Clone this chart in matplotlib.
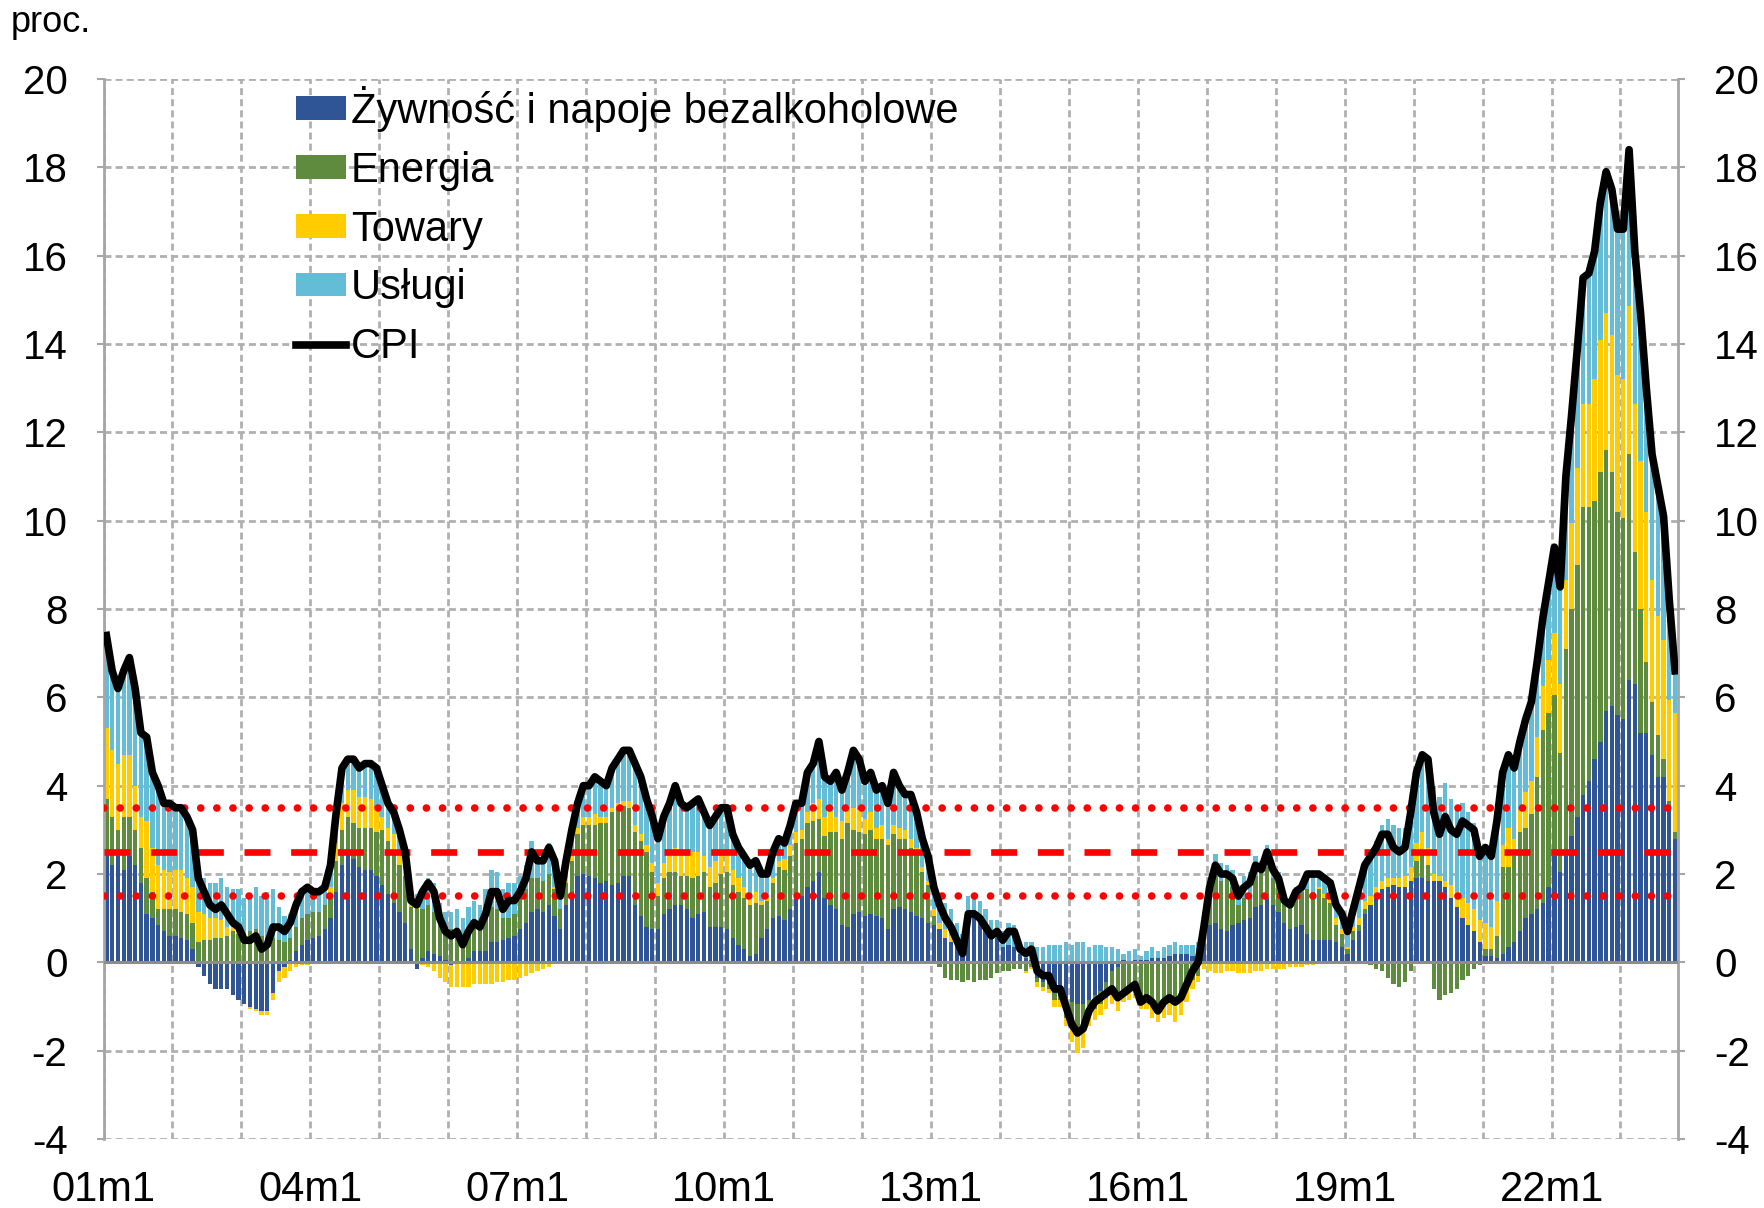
import numpy as np
import matplotlib
matplotlib.use("Agg")
import matplotlib.pyplot as plt
from matplotlib.lines import Line2D
from matplotlib.patches import Patch

plt.rcParams['font.family'] = ['Liberation Sans', 'DejaVu Sans']
plt.rcParams['axes.unicode_minus'] = False

# ---- data: monthly 2001m1 .. 2023m10, contributions in pp, CPI y/y in % ----
food = [
    2.4, 2.2, 2.4, 2.1, 2.4, 2.2, 1.8, 1.1, 1.0, 0.85, 0.7, 0.6,            # 2001
    0.6, 0.55, 0.5, 0.3, -0.1, -0.3, -0.5, -0.6, -0.6, -0.6, -0.75, -0.85,  # 2002
    -0.95, -1.0, -1.05, -1.1, -1.1, -0.7, -0.2, -0.1, 0.05, 0.25, 0.4, 0.5, # 2003
    0.55, 0.6, 0.75, 1.0, 1.6, 2.2, 2.45, 2.35, 2.15, 2.1, 2.1, 1.95,       # 2004
    1.75, 1.55, 1.35, 1.15, 0.9, 0.3, -0.15, 0.1, 0.25, 0.2, 0.15, 0.05,    # 2005
    -0.05, 0.0, 0.0, 0.1, 0.25, 0.25, 0.25, 0.45, 0.45, 0.5, 0.55, 0.6,     # 2006
    0.75, 0.9, 1.15, 1.2, 1.15, 1.3, 1.05, 0.75, 1.3, 1.6, 1.95, 2.0,       # 2007
    1.95, 1.9, 1.8, 1.85, 1.75, 1.8, 1.95, 1.95, 1.3, 1.05, 0.8, 0.75,      # 2008
    0.75, 1.1, 1.2, 1.3, 1.3, 1.2, 1.0, 1.1, 1.15, 0.8, 0.8, 0.8,           # 2009
    0.75, 0.55, 0.4, 0.3, 0.15, 0.2, 0.55, 0.75, 1.0, 1.05, 0.95, 1.2,      # 2010
    1.5, 1.5, 1.7, 1.85, 2.05, 1.45, 1.3, 1.2, 0.85, 0.8, 1.1, 1.15,        # 2011
    1.05, 1.1, 1.05, 1.0, 0.75, 1.2, 1.25, 1.2, 1.15, 1.05, 1.0, 0.9,       # 2012
    0.85, 0.75, 0.55, 0.45, 0.4, 0.3, 0.95, 1.05, 0.9, 0.75, 0.6, 0.55,     # 2013
    0.35, 0.4, 0.35, 0.2, 0.1, 0.05, -0.35, -0.45, -0.5, -0.7, -0.7, -0.8,  # 2014
    -0.9, -0.95, -0.95, -0.85, -0.75, -0.65, -0.45, -0.2, -0.1, 0.05, 0.0, 0.05,  # 2015
    0.05, 0.05, 0.1, 0.1, 0.1, 0.15, 0.2, 0.2, 0.2, 0.15, 0.2, 0.55,        # 2016
    0.85, 0.9, 0.75, 0.7, 0.85, 0.9, 0.95, 1.0, 1.25, 1.3, 1.45, 1.3,       # 2017
    1.15, 0.9, 0.75, 0.8, 0.85, 0.65, 0.5, 0.5, 0.5, 0.5, 0.45, 0.35,       # 2018
    0.2, 0.5, 0.7, 1.1, 1.3, 1.5, 1.65, 1.7, 1.75, 1.7, 1.7, 1.85,          # 2019
    1.9, 1.9, 1.85, 1.85, 1.85, 1.7, 1.45, 1.25, 1.0, 0.85, 0.7, 0.45,      # 2020
    0.15, 0.15, 0.1, 0.2, 0.35, 0.45, 0.7, 1.0, 1.1, 1.2, 1.35, 1.7,        # 2021
    2.4, 2.05, 2.4, 2.85, 3.3, 3.8, 4.1, 4.6, 5.0, 5.7, 5.8, 5.6,           # 2022
    5.5, 6.4, 6.3, 5.2, 5.2, 4.7, 4.2, 4.2, 3.5, 2.8,                       # 2023
]
energy = [
    1.3, 1.1, 0.6, 1.2, 0.9, 0.8, 0.8, 0.8, 0.6, 0.35, 0.5, 0.6,
    0.6, 0.6, 0.6, 0.6, 0.45, 0.5, 0.5, 0.55, 0.55, 0.6, 0.7, 0.65,
    0.6, 0.7, 0.75, 0.6, 0.55, 0.55, 0.5, 0.45, 0.5, 0.55, 0.6, 0.6,
    0.6, 0.55, 0.55, 0.55, 0.7, 0.8, 0.85, 0.8, 0.9, 0.95, 0.95, 1.0,
    1.25, 1.2, 1.15, 1.05, 1.05, 0.95, 1.2, 1.1, 1.05, 0.95, 0.75, 0.7,
    0.75, 0.7, 0.55, 0.65, 0.65, 0.6, 0.95, 0.8, 0.75, 0.5, 0.45, 0.5,
    0.7, 0.75, 0.75, 0.7, 0.7, 0.7, 0.6, 0.45, 0.5, 0.7, 0.95, 1.1,
    1.15, 1.2, 1.35, 1.3, 1.65, 1.7, 1.6, 1.55, 1.65, 1.7, 1.7, 1.3,
    0.75, 0.8, 0.85, 0.75, 0.65, 0.75, 0.9, 0.85, 0.9, 0.9, 1.0, 1.2,
    1.3, 1.2, 1.2, 1.15, 1.15, 1.15, 0.75, 0.65, 0.8, 1.1, 1.15, 1.2,
    1.2, 1.3, 1.45, 1.35, 1.2, 1.4, 1.65, 1.75, 1.95, 2.35, 1.9, 1.8,
    1.85, 1.9, 1.75, 1.8, 1.9, 1.7, 1.55, 1.6, 1.45, 1.45, 1.05, 0.85,
    0.2, -0.1, -0.35, -0.4, -0.4, -0.45, -0.4, -0.45, -0.4, -0.4, -0.35, -0.25,
    -0.2, -0.2, -0.15, -0.15, -0.2, -0.1, -0.1, -0.1, -0.1, -0.15, -0.15, -0.45,
    -0.45, -0.65, -0.6, -0.3, -0.3, -0.3, -0.35, -0.45, -0.7, -0.65, -0.55, -0.55,
    -0.8, -0.75, -0.9, -1.0, -0.95, -0.9, -0.95, -0.85, -0.6, -0.4, -0.3, 0.15,
    0.9, 1.05, 1.1, 1.2, 0.85, 0.4, 0.5, 0.5, 0.7, 0.75, 0.7, 0.6,
    0.6, 0.55, 0.55, 0.7, 0.75, 1.0, 1.1, 1.15, 0.95, 0.85, 0.4, 0.3,
    0.1, 0.2, 0.15, 0.1, -0.05, -0.15, -0.2, -0.35, -0.5, -0.55, -0.45, -0.2,
    0.4, 0.6, 0.35, -0.6, -0.85, -0.75, -0.7, -0.6, -0.4, -0.3, -0.15, -0.05,
    0.15, 0.15, 0.5, 1.95, 1.8, 1.95, 2.25, 2.05, 2.25, 3.0, 3.9, 3.95,
    3.65, 2.7, 4.7, 5.15, 5.7, 6.5, 6.2, 5.85, 6.1, 5.9, 5.3, 4.6,
    4.55, 5.1, 3.0, 2.8, 1.6, 1.2, 0.95, 0.4, 0.15, 0.15,
]
goods = [
    1.6, 1.5, 1.5, 1.4, 1.4, 1.0, 0.7, 1.3, 1.0, 1.0, 0.9, 0.85,
    0.9, 0.95, 0.8, 0.8, 0.7, 0.6, 0.5, 0.45, 0.4, 0.2, 0.1, 0.1,
    0.0, -0.05, -0.05, -0.1, -0.1, -0.15, -0.25, -0.25, -0.2, -0.1, -0.05, -0.05,
    0.0, 0.0, 0.0, 0.15, 0.4, 0.6, 0.6, 0.75, 0.7, 0.7, 0.65, 0.6,
    0.3, 0.3, 0.4, 0.35, 0.25, 0.1, 0.05, -0.05, -0.1, -0.2, -0.35, -0.45,
    -0.5, -0.55, -0.55, -0.55, -0.5, -0.5, -0.5, -0.5, -0.45, -0.45, -0.4, -0.4,
    -0.35, -0.3, -0.25, -0.2, -0.15, -0.1, 0.05, 0.0, 0.1, 0.1, 0.15, 0.2,
    0.2, 0.25, 0.15, 0.15, 0.1, 0.1, 0.1, 0.15, 0.15, 0.15, 0.15, 0.2,
    0.3, 0.35, 0.4, 0.55, 0.55, 0.45, 0.6, 0.55, 0.35, 0.45, 0.5, 0.4,
    0.45, 0.35, 0.3, 0.25, 0.25, 0.25, 0.1, 0.05, 0.1, 0.15, 0.25, 0.25,
    0.25, 0.2, 0.25, 0.4, 0.45, 0.45, 0.45, 0.35, 0.4, 0.4, 0.5, 0.5,
    0.35, 0.4, 0.25, 0.3, 0.15, 0.2, 0.25, 0.2, 0.2, 0.1, 0.1, 0.1,
    0.15, 0.15, 0.2, 0.15, 0.05, 0.05, 0.1, 0.1, 0.05, 0.0, 0.0, 0.0,
    0.0, 0.0, 0.0, 0.0, -0.05, -0.05, -0.1, -0.1, -0.1, -0.15, -0.15, -0.2,
    -0.45, -0.45, -0.4, -0.3, -0.25, -0.25, -0.25, -0.3, -0.3, -0.25, -0.3, -0.25,
    -0.25, -0.3, -0.35, -0.35, -0.3, -0.3, -0.4, -0.35, -0.3, -0.2, -0.15, -0.15,
    -0.2, -0.25, -0.25, -0.2, -0.2, -0.25, -0.25, -0.25, -0.2, -0.2, -0.15, -0.15,
    -0.15, -0.15, -0.1, -0.1, -0.1, -0.05, -0.05, 0.05, 0.1, 0.1, 0.15, 0.1,
    0.05, 0.1, 0.15, 0.2, 0.2, 0.2, 0.2, 0.2, 0.15, 0.2, 0.25, 0.3,
    0.4, 0.45, 0.4, 0.15, 0.1, 0.15, 0.3, 0.35, 0.45, 0.5, 0.5, 0.5,
    0.6, 0.5, 0.8, 0.5, 0.9, 0.4, 0.5, 0.8, 0.75, 0.9, 1.0, 1.2,
    1.4, 1.55, 1.55, 1.95, 2.2, 2.35, 2.35, 2.75, 3.0, 3.1, 3.1, 3.1,
    3.15, 3.35, 3.35, 3.35, 3.4, 2.75, 2.7, 2.7, 2.3, 2.7,
]
services = [
    2.1, 1.8, 1.7, 1.9, 2.2, 2.2, 1.9, 1.9, 1.7, 1.8, 1.5, 1.55,
    1.4, 1.4, 1.4, 1.3, 0.85, 0.8, 0.8, 0.8, 0.95, 0.9, 0.85, 0.9,
    0.85, 0.85, 0.95, 0.9, 1.05, 1.1, 0.75, 0.6, 0.55, 0.6, 0.65, 0.65,
    0.45, 0.45, 0.4, 0.5, 0.7, 0.8, 0.7, 0.7, 0.65, 0.75, 0.8, 0.85,
    0.7, 0.55, 0.5, 0.45, 0.3, 0.05, 0.3, 0.45, 0.6, 0.65, 0.45, 0.4,
    0.4, 0.5, 0.45, 0.5, 0.5, 0.45, 0.45, 0.85, 0.85, 0.65, 0.8, 0.7,
    0.5, 0.55, 0.85, 0.6, 0.6, 0.7, 0.6, 0.3, 0.4, 0.6, 0.55, 0.7,
    0.7, 0.85, 0.8, 0.7, 0.9, 1.0, 1.15, 1.15, 1.4, 1.3, 1.05, 1.05,
    1.0, 1.05, 1.15, 1.4, 1.1, 1.1, 1.1, 1.2, 1.0, 0.95, 1.0, 1.1,
    1.0, 0.8, 0.7, 0.7, 0.65, 0.7, 0.6, 0.55, 0.6, 0.5, 0.35, 0.45,
    0.65, 0.6, 0.9, 0.9, 1.3, 0.9, 0.7, 1.0, 0.7, 0.75, 1.3, 1.15,
    0.85, 0.9, 0.85, 0.9, 0.8, 1.2, 0.95, 0.8, 1.0, 0.8, 0.65, 0.55,
    0.5, 0.5, 0.6, 0.6, 0.45, 0.3, 0.45, 0.4, 0.45, 0.45, 0.35, 0.4,
    0.35, 0.5, 0.5, 0.25, 0.35, 0.4, 0.35, 0.35, 0.4, 0.4, 0.4, 0.45,
    0.4, 0.45, 0.45, 0.35, 0.4, 0.4, 0.35, 0.35, 0.3, 0.15, 0.25, 0.25,
    0.1, 0.2, 0.25, 0.15, 0.25, 0.25, 0.25, 0.2, 0.2, 0.25, 0.25, 0.25,
    0.15, 0.5, 0.4, 0.3, 0.4, 0.45, 0.5, 0.55, 0.45, 0.25, 0.5, 0.35,
    0.3, 0.1, 0.1, 0.2, 0.2, 0.4, 0.45, 0.3, 0.35, 0.35, 0.3, 0.35,
    0.35, 0.4, 0.7, 0.8, 0.95, 1.05, 1.25, 1.35, 1.2, 1.15, 1.1, 1.45,
    1.6, 1.75, 2.0, 2.0, 1.8, 2.2, 1.95, 1.9, 2.15, 2.05, 1.95, 1.5,
    1.7, 1.6, 1.8, 1.65, 1.65, 1.6, 1.55, 1.65, 1.8, 1.7, 1.55, 1.75,
    1.95, 2.2, 2.35, 2.45, 2.7, 2.85, 2.95, 2.9, 3.1, 3.2, 3.3, 3.3,
    3.4, 3.55, 3.45, 3.35, 2.8, 2.85, 2.95, 2.8, 2.25, 0.95,
]
cpi = [
    7.4, 6.6, 6.2, 6.6, 6.9, 6.2, 5.2, 5.1, 4.3, 4.0, 3.6, 3.6,
    3.5, 3.5, 3.3, 3.0, 1.9, 1.6, 1.3, 1.2, 1.3, 1.1, 0.9, 0.8,
    0.5, 0.5, 0.6, 0.3, 0.4, 0.8, 0.8, 0.7, 0.9, 1.3, 1.6, 1.7,
    1.6, 1.6, 1.7, 2.2, 3.4, 4.4, 4.6, 4.6, 4.4, 4.5, 4.5, 4.4,
    4.0, 3.6, 3.4, 3.0, 2.5, 1.4, 1.3, 1.6, 1.8, 1.6, 1.0, 0.7,
    0.6, 0.7, 0.4, 0.7, 0.9, 0.8, 1.1, 1.6, 1.6, 1.2, 1.4, 1.4,
    1.6, 1.9, 2.5, 2.3, 2.3, 2.6, 2.3, 1.5, 2.3, 3.0, 3.6, 4.0,
    4.0, 4.2, 4.1, 4.0, 4.4, 4.6, 4.8, 4.8, 4.5, 4.2, 3.7, 3.3,
    2.8, 3.3, 3.6, 4.0, 3.6, 3.5, 3.6, 3.7, 3.4, 3.1, 3.3, 3.5,
    3.5, 2.9, 2.6, 2.4, 2.2, 2.3, 2.0, 2.0, 2.5, 2.8, 2.7, 3.1,
    3.6, 3.6, 4.3, 4.5, 5.0, 4.2, 4.1, 4.3, 3.9, 4.3, 4.8, 4.6,
    4.1, 4.3, 3.9, 4.0, 3.6, 4.3, 4.0, 3.8, 3.8, 3.4, 2.8, 2.4,
    1.7, 1.3, 1.0, 0.8, 0.5, 0.2, 1.1, 1.1, 1.0, 0.8, 0.6, 0.7,
    0.5, 0.7, 0.7, 0.3, 0.2, 0.3, -0.2, -0.3, -0.3, -0.6, -0.6, -1.0,
    -1.4, -1.6, -1.5, -1.1, -0.9, -0.8, -0.7, -0.6, -0.8, -0.7, -0.6, -0.5,
    -0.9, -0.8, -0.9, -1.1, -0.9, -0.8, -0.9, -0.8, -0.5, -0.2, 0.0, 0.8,
    1.7, 2.2, 2.0, 2.0, 1.9, 1.5, 1.7, 1.8, 2.2, 2.1, 2.5, 2.1,
    1.9, 1.4, 1.3, 1.6, 1.7, 2.0, 2.0, 2.0, 1.9, 1.8, 1.3, 1.1,
    0.7, 1.2, 1.7, 2.2, 2.4, 2.6, 2.9, 2.9, 2.6, 2.5, 2.6, 3.4,
    4.3, 4.7, 4.6, 3.4, 2.9, 3.3, 3.0, 2.9, 3.2, 3.1, 3.0, 2.4,
    2.6, 2.4, 3.2, 4.3, 4.7, 4.4, 5.0, 5.5, 5.9, 6.8, 7.8, 8.6,
    9.4, 8.5, 11.0, 12.4, 13.9, 15.5, 15.6, 16.1, 17.2, 17.9, 17.5, 16.6,
    16.6, 18.4, 16.1, 14.7, 13.0, 11.5, 10.8, 10.1, 8.2, 6.6,
]

series_names = ["Żywność i napoje bezalkoholowe", "Energia", "Towary", "Usługi"]
series_colors = ["#2F5597", "#5E8B3E", "#FFCC00", "#64BDD7"]
target = 2.5
band_lo, band_hi = 1.5, 3.5
xtick_labels = ["01m1", "04m1", "07m1", "10m1", "13m1", "16m1", "19m1", "22m1"]

n = len(cpi)
x = np.arange(n) + 0.5

fig = plt.figure(figsize=(17.64, 12.08), dpi=100)
ax = fig.add_axes([0.0587, 0.0571, 0.8925, 0.8775])

# stacked bars, positives up and negatives down
pos_base = np.zeros(n)
neg_base = np.zeros(n)
for vals, col in zip([food, energy, goods, services], series_colors):
    v = np.array(vals)
    p = np.where(v > 0, v, 0)
    q = np.where(v < 0, v, 0)
    ax.bar(x, p, bottom=pos_base, width=0.75, color=col, linewidth=0, zorder=2)
    ax.bar(x, q, bottom=neg_base, width=0.75, color=col, linewidth=0, zorder=2)
    pos_base += p
    neg_base += q

ax.axhline(0, color="#8c8c8c", lw=2.2, zorder=3)

# inflation target and band
ax.axhline(target, color="red", lw=4.8, linestyle=(0, (3.9, 3.1)), zorder=4)
for lvl in (band_lo, band_hi):
    ax.axhline(lvl, color="red", lw=5.5, linestyle=(0, (0.01, 2.1)),
               dash_capstyle="round", zorder=4)

ax.plot(x, cpi, color="black", lw=5.5, solid_joinstyle="round", zorder=5)

ax.set_xlim(0, n)
ax.set_ylim(-4, 20)
ax.set_yticks(np.arange(-4, 21, 2))
ax.set_xticks(np.arange(0, n, 36))
ax.set_xticklabels(xtick_labels)
ax.set_xticks(np.arange(0, n, 12), minor=True)

ax.grid(True, which="both", axis="x", color="#b0b0b0", lw=2, linestyle=(0, (2.5, 1.5)), zorder=1)
ax.grid(True, which="major", axis="y", color="#b0b0b0", lw=2, linestyle=(0, (2.5, 1.5)), zorder=1)

for side in ("top", "bottom"):
    ax.spines[side].set_visible(False)
for side in ("left", "right"):
    ax.spines[side].set_color("#a6a6a6")
    ax.spines[side].set_linewidth(2)

ax.tick_params(axis="y", which="both", left=True, right=True, labelleft=True, labelright=True,
               length=5, width=1.5, color="#a6a6a6", labelsize=29, pad=21)
ax.tick_params(axis="x", which="both", length=0, labelsize=30, pad=22)

handles = [Patch(facecolor=c, edgecolor="none") for c in series_colors]
handles.append(Line2D([0], [0], color="black", lw=5.5))
labels = series_names + ["CPI"]
fig.legend(handles, labels, loc="upper left",
           bbox_to_anchor=(296 / 1764, 1 - 86 / 1208), frameon=False,
           fontsize=30, handlelength=1.2, handleheight=0.5, handletextpad=0.12,
           labelspacing=0.45, borderpad=0, borderaxespad=0)

fig.text(11 / 1764, 1 - 22 / 1208, "proc.", fontsize=26, va="center", ha="left")

fig.savefig("out.png", dpi=100)
